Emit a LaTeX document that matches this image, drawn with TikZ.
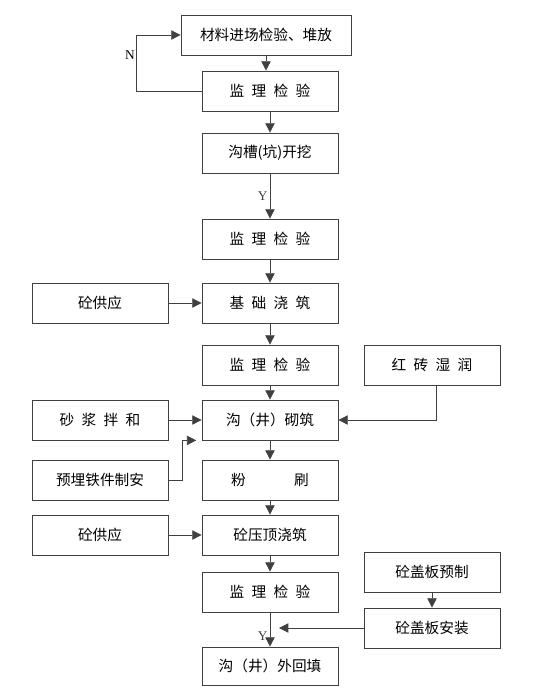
\documentclass[tikz,border=0pt]{standalone}
\usepackage{fontspec}
\setmainfont{Liberation Serif}
\newfontfamily\cjk{Noto Sans CJK SC}
\usetikzlibrary{arrows.meta}
\newcommand{\cjkgap}{\hspace{0.5em}}
\begin{document}
\begin{tikzpicture}[
    x=0.75pt, y=-0.75pt,
    box/.style={rectangle, draw=black!75, line width=0.6pt, minimum width=102pt, minimum height=30pt, inner sep=0pt, align=center, font=\cjk\fontsize{11}{13}\selectfont},
    widebox/.style={box, minimum width=127.5pt},
    arrow/.style={-{Triangle[length=7pt,width=7pt]}, line width=0.6pt, black!75},
    lbl/.style={font=\fontsize{10}{11}\selectfont, inner sep=1.5pt}
]
\useasboundingbox (0,0) rectangle (554,697);
% Main column
\node[widebox] (stock) at (266,35) {材料进场检验、堆放};
\node[box] (check1) at (270,91) {监\cjkgap 理\cjkgap 检\cjkgap 验};
\node[box] (trench) at (270,153) {沟槽(坑)开挖};
\node[box] (check2) at (270,239) {监\cjkgap 理\cjkgap 检\cjkgap 验};
\node[box] (found) at (270,303) {基\cjkgap 础\cjkgap 浇\cjkgap 筑};
\node[box] (check3) at (270,365) {监\cjkgap 理\cjkgap 检\cjkgap 验};
\node[box] (masonry) at (270,420) {沟（井）砌筑};
\node[box] (plaster) at (270,480) {粉\hspace{3.3em}刷};
\node[box] (coping) at (270,535) {砼压顶浇筑};
\node[box] (check4) at (270,592) {监\cjkgap 理\cjkgap 检\cjkgap 验};
\node[box, minimum height=28.5pt] (backfill) at (270,666) {沟（井）外回填};
% Left supplies
\node[box] (concrete1) at (100,303) {砼供应};
\node[box] (mortar) at (100,420) {砂\cjkgap 浆\cjkgap 拌\cjkgap 和};
\node[box] (embed) at (100,480) {预埋铁件制安};
\node[box] (concrete2) at (100,535) {砼供应};
% Right supplies
\node[box] (brick) at (432,365) {红\cjkgap 砖\cjkgap 湿\cjkgap 润};
\node[box] (slabpre) at (432,572) {砼盖板预制};
\node[box] (slabins) at (432,628) {砼盖板安装};
% Free ends
\coordinate (embedtip) at ([xshift=-4pt]masonry.south west);
\coordinate (slabtip) at (279,628);
% Arrows
\draw[arrow] (stock.south) -- (stock.south |- check1.north);
\draw[arrow] (check1.west) -- ++(-65,0) |- (stock.west);
\node[lbl, anchor=east] (nlabel) at (137,55) {N};
\draw[arrow] (check1) -- (trench);
\draw[arrow] (trench) -- node[lbl, left] (ylabel1) {Y} (check2);
\draw[arrow] (check2) -- (found);
\draw[arrow] (found) -- (check3);
\draw[arrow] (check3) -- (masonry);
\draw[arrow] (masonry) -- (plaster);
\draw[arrow] (plaster) -- (coping);
\draw[arrow] (coping) -- (check4);
\draw[arrow] (check4) -- node[lbl, left, pos=0.7] (ylabel2) {Y} (backfill);
\draw[arrow] (concrete1) -- (found);
\draw[arrow] (mortar) -- (masonry);
\draw[arrow] (embed.east) -- ++(14,0) |- (embedtip);
\draw[arrow] (concrete2) -- (coping);
\draw[arrow] ([xshift=3pt]brick.south) |- (masonry.east);
\draw[arrow] (slabpre) -- (slabins);
\draw[arrow] (slabins.west) -- (slabtip);
\end{tikzpicture}
\end{document}
